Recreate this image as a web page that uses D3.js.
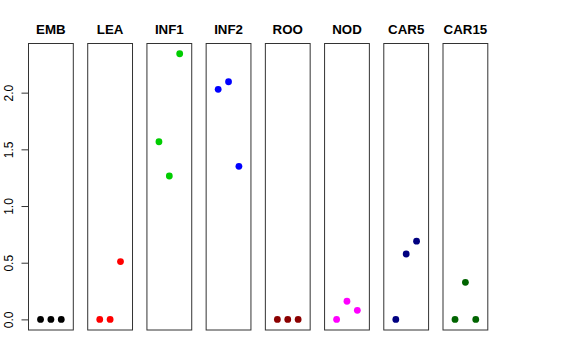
<!DOCTYPE html>
<html>
<head>
<meta charset="utf-8">
<script src="https://cdn.jsdelivr.net/npm/d3@7"></script>
<style>
  body { margin: 0; background: white; }
  text { font-family: "Liberation Sans", Arial, sans-serif; }
</style>
</head>
<body>
<svg id="chart"></svg>
<script>
const GROUPS = ["EMB", "LEA", "INF1", "INF2", "ROO", "NOD", "CAR5", "CAR15"];
const COLORS = ["#000000", "#FF0000", "#00CD00", "#0000FF", "#8B0000", "#FF00FF", "#000080", "#006400"];
const REPS = [1, 2, 3];
const VALUES = [
  [0, 0, 0],
  [0, 0, 0.51],
  [1.567, 1.265, 2.343],
  [2.029, 2.096, 1.35],
  [0, 0, 0],
  [0, 0.16, 0.08],
  [0, 0.577, 0.69],
  [0, 0.327, 0]
];
const Y_TICKS = [0, 0.5, 1.0, 1.5, 2.0];

var width = 576, height = 360;
var svg = d3.select("#chart").attr("width", width).attr("height", height);

// panel layout
var panelW = 44.8;
var plotTop = 43.5, plotBottom = 330;
var px = d3.scaleLinear().domain([0, GROUPS.length - 1]).range([28.5, 443]);
var x = d3.scaleLinear().domain([-0.16, 4.16]).range([0, panelW]);
var y = d3.scaleLinear().domain([-0.0936, 2.4336]).range([plotBottom, plotTop]);

GROUPS.forEach(function(name, i) {
  var g = svg.append("g").attr("transform", "translate(" + px(i) + ",0)");

  g.append("rect")
    .attr("x", 0).attr("y", plotTop)
    .attr("width", panelW).attr("height", plotBottom - plotTop)
    .attr("fill", "none")
    .attr("stroke", "#333")
    .attr("stroke-width", 1);

  g.append("text")
    .attr("x", panelW / 2).attr("y", 34)
    .attr("text-anchor", "middle")
    .attr("font-size", 13.3)
    .attr("font-weight", "bold")
    .text(name);

  g.selectAll("circle")
    .data(VALUES[i])
    .enter()
    .append("circle")
    .attr("cx", function(d, j) { return x(REPS[j]); })
    .attr("cy", function(d) { return y(d); })
    .attr("r", 3.4)
    .attr("fill", COLORS[i]);
});

/********* Y axis on first panel ***********/
var yAxis = svg.append("g")
  .attr("transform", "translate(" + px(0) + ",0)")
  .call(d3.axisLeft(y).tickValues(Y_TICKS).tickFormat(d3.format(".1f"))
    .tickSize(7).tickSizeOuter(0).tickPadding(0));
// axis line only spans the tick range, like R
yAxis.select(".domain").remove();
yAxis.append("line")
  .attr("x1", 0).attr("x2", 0)
  .attr("y1", y(Y_TICKS[0])).attr("y2", y(Y_TICKS[Y_TICKS.length - 1]))
  .attr("stroke", "#333");
yAxis.selectAll(".tick line").attr("stroke", "#333");
yAxis.selectAll(".tick text")
  .attr("font-size", 12)
  .attr("font-family", "Liberation Sans, Arial, sans-serif")
  .attr("fill", "black")
  .attr("text-anchor", "middle")
  .attr("transform", "rotate(-90)")
  .attr("x", 0)
  .attr("dy", 0)
  .attr("y", -15.5);
</script>
</body>
</html>
